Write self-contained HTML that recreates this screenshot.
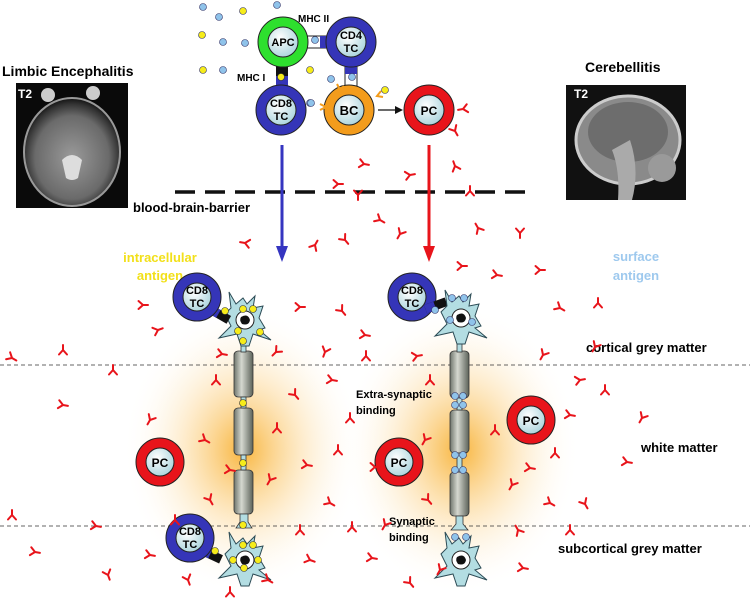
<!DOCTYPE html>
<html><head><meta charset="utf-8"><style>
html,body{margin:0;padding:0;background:#fff;width:750px;height:598px;overflow:hidden}
svg{display:block;font-family:"Liberation Sans",Arial,sans-serif}
</style></head><body>
<svg width="750" height="598" viewBox="0 0 750 598" xmlns="http://www.w3.org/2000/svg">
<defs>
<radialGradient id="glow" cx="50%" cy="50%" r="50%">
<stop offset="0" stop-color="#f7a81b" stop-opacity="0.85"/>
<stop offset="0.4" stop-color="#fbc970" stop-opacity="0.5"/>
<stop offset="1" stop-color="#fff" stop-opacity="0"/>
</radialGradient>
<radialGradient id="inner" cx="40%" cy="35%" r="70%">
<stop offset="0" stop-color="#ffffff"/><stop offset="1" stop-color="#a9d3dc"/>
</radialGradient>
<linearGradient id="axon" x1="0" x2="1">
<stop offset="0" stop-color="#6f756c"/><stop offset="0.4" stop-color="#d5d8d0"/><stop offset="1" stop-color="#5c6259"/>
</linearGradient>
<radialGradient id="brainL" cx="50%" cy="55%" r="55%">
<stop offset="0" stop-color="#9a9a9a"/><stop offset="0.7" stop-color="#6a6a6a"/><stop offset="0.9" stop-color="#333"/><stop offset="1" stop-color="#111"/>
</radialGradient>
<g id="ab"><path d="M0,5 L0,0 M0,0 L-4,-4.5 M0,0 L4,-4.5" stroke="#e8141b" stroke-width="2" fill="none" stroke-linecap="round"/></g>
<g id="soma">
<path d="M-14,-12 L-16,-28 L-9,-16 L-2,-22 L2,-16 L10,-24 L8,-12 L18,-14 L14,-2 L20,8 L14,10 L26,20 L8,14 L4,26 L-4,26 L-8,14 L-26,18 L-14,6 L-20,-6 Z" fill="#b3dde2" stroke="#2c4b55" stroke-width="1"/>
<circle r="9" fill="#fff" stroke="#222" stroke-width="1"/>
<path d="M-4,-3 Q3,-7 5,0 Q4,6 -3,4 Q-6,0 -4,-3Z" fill="#111"/>
</g>
</defs>

<ellipse cx="243" cy="450" rx="120" ry="145" fill="url(#glow)"/>
<ellipse cx="460" cy="450" rx="120" ry="145" fill="url(#glow)"/>

<text x="2" y="76" font-size="14" font-weight="bold">Limbic Encephalitis</text>
<rect x="16" y="83" width="112" height="125" fill="#0a0a0a"/>
<ellipse cx="72" cy="152" rx="48" ry="54" fill="url(#brainL)"/>
<ellipse cx="72" cy="152" rx="48" ry="54" fill="none" stroke="#999" stroke-width="2"/>
<path d="M62,160 Q72,150 82,160 L78,178 Q72,182 66,178Z" fill="#ddd"/>
<circle cx="48" cy="95" r="7" fill="#ccc"/><circle cx="93" cy="93" r="7" fill="#ccc"/>
<text x="18" y="98" font-size="12" font-weight="bold" fill="#fff">T2</text>

<text x="585" y="72" font-size="14" font-weight="bold">Cerebellitis</text>
<rect x="566" y="85" width="120" height="115" fill="#111"/>
<ellipse cx="628" cy="140" rx="52" ry="44" fill="#8a8a8a" stroke="#ccc" stroke-width="3"/>
<ellipse cx="628" cy="132" rx="40" ry="30" fill="#6d6d6d"/>
<path d="M630,140 Q640,170 632,200 L618,200 Q620,170 612,150Z" fill="#aaa"/>
<circle cx="662" cy="168" r="14" fill="#9a9a9a"/>
<text x="574" y="98" font-size="12" font-weight="bold" fill="#fff">T2</text>

<g stroke="#336" stroke-width="0.6">
<circle cx="203" cy="7" r="3.5" fill="#8fc3ea"/><circle cx="277" cy="5" r="3.5" fill="#8fc3ea"/>
<circle cx="219" cy="17" r="3.5" fill="#8fc3ea"/><circle cx="243" cy="11" r="3.5" fill="#f6ec1a"/>
<circle cx="202" cy="35" r="3.5" fill="#f6ec1a"/><circle cx="223" cy="42" r="3.5" fill="#8fc3ea"/>
<circle cx="245" cy="43" r="3.5" fill="#8fc3ea"/><circle cx="203" cy="70" r="3.5" fill="#f6ec1a"/>
<circle cx="223" cy="70" r="3.5" fill="#8fc3ea"/><circle cx="310" cy="70" r="3.5" fill="#f6ec1a"/>
<circle cx="331" cy="79" r="3.5" fill="#8fc3ea"/><circle cx="310" cy="103" r="3.5" fill="#8fc3ea"/>
<circle cx="385" cy="90" r="3.5" fill="#f6ec1a"/>
</g>

<rect x="307" y="36" width="26" height="12" fill="#fff" stroke="#222"/>
<rect x="320" y="36" width="13" height="12" fill="#3535b8"/>
<circle cx="315" cy="40" r="3.5" fill="#8fc3ea" stroke="#336" stroke-width="0.6"/>
<rect x="276" y="64" width="12" height="22" fill="#111"/>
<rect x="276" y="76" width="12" height="12" fill="#3535b8"/>
<circle cx="281" cy="77" r="3.5" fill="#f6ec1a" stroke="#333" stroke-width="0.6"/>
<rect x="345" y="62" width="12" height="26" fill="#fff" stroke="#222"/>
<rect x="345" y="62" width="12" height="12" fill="#3535b8"/>
<circle cx="352" cy="77" r="3.5" fill="#8fc3ea" stroke="#336" stroke-width="0.6"/>
<text x="298" y="22" font-size="10" font-weight="bold">MHC II</text>
<text x="237" y="81" font-size="10" font-weight="bold">MHC I</text>

<g stroke="#222" stroke-width="1">
<circle cx="283" cy="42" r="25" fill="#2ee02e"/><circle cx="283" cy="42" r="15" fill="url(#inner)"/>
<circle cx="351" cy="42" r="25" fill="#3535b8"/><circle cx="351" cy="42" r="15" fill="url(#inner)"/>
<circle cx="281" cy="110" r="25" fill="#3535b8"/><circle cx="281" cy="110" r="15" fill="url(#inner)"/>
<circle cx="349" cy="110" r="25" fill="#f39c1c"/><circle cx="349" cy="110" r="15" fill="url(#inner)"/>
<circle cx="429" cy="110" r="25" fill="#e8141b"/><circle cx="429" cy="110" r="15" fill="url(#inner)"/>
</g>
<g font-size="11" font-weight="bold" text-anchor="middle">
<text x="283" y="46">APC</text>
<text x="351" y="39">CD4</text><text x="351" y="52">TC</text>
<text x="281" y="107">CD8</text><text x="281" y="120">TC</text>
<text x="349" y="115" font-size="13">BC</text>
<text x="429" y="115" font-size="12">PC</text>
</g>
<g stroke="#f39c1c" stroke-width="2" fill="none">
<path d="M320,104 l6,3 l-6,3"/><path d="M337,84 l3,6 l4,-4"/><path d="M381,91 l-4,5 l6,1"/>
</g>
<line x1="378" y1="110" x2="396" y2="110" stroke="#111" stroke-width="1.2"/>
<polygon points="403,110 395,106 395,114" fill="#111"/>
<circle cx="311" cy="103" r="3.5" fill="#8fc3ea" stroke="#336" stroke-width="0.6"/>

<line x1="175" y1="192" x2="526" y2="192" stroke="#111" stroke-width="3.5" stroke-dasharray="20,10"/>
<text x="133" y="212" font-size="13" font-weight="bold">blood-brain-barrier</text>

<line x1="282" y1="145" x2="282" y2="250" stroke="#3535c0" stroke-width="3"/>
<polygon points="282,262 276,246 288,246" fill="#3535c0"/>
<line x1="429" y1="145" x2="429" y2="250" stroke="#e8141b" stroke-width="3"/>
<polygon points="429,262 423,246 435,246" fill="#e8141b"/>

<text x="160" y="262" font-size="13" font-weight="bold" fill="#f2e01a" text-anchor="middle">intracellular</text>
<text x="160" y="280" font-size="13" font-weight="bold" fill="#f2e01a" text-anchor="middle">antigen</text>
<text x="636" y="261" font-size="13" font-weight="bold" fill="#9ec9ee" text-anchor="middle">surface</text>
<text x="636" y="280" font-size="13" font-weight="bold" fill="#9ec9ee" text-anchor="middle">antigen</text>

<line x1="0" y1="365" x2="750" y2="365" stroke="#333" stroke-width="0.8" stroke-dasharray="4,3"/>
<line x1="0" y1="526" x2="750" y2="526" stroke="#333" stroke-width="0.8" stroke-dasharray="4,3"/>
<g font-size="13" font-weight="bold">
<text x="586" y="352">cortical grey matter</text>
<text x="641" y="452">white matter</text>
<text x="558" y="553">subcortical grey matter</text>
</g>

<g stroke="#333" stroke-width="0.8">
<rect x="234" y="351" width="19" height="46" rx="4" fill="url(#axon)"/>
<rect x="234" y="408" width="19" height="47" rx="4" fill="url(#axon)"/>
<rect x="234" y="470" width="19" height="44" rx="4" fill="url(#axon)"/>
<rect x="241" y="397" width="5" height="11" fill="#b3dde2"/>
<rect x="241" y="455" width="5" height="15" fill="#b3dde2"/>
<path d="M240,514 L240,522 L236,528 L252,528 L248,522 L248,514Z" fill="#b3dde2"/>
<rect x="241" y="342" width="5" height="10" fill="#b3dde2"/>
</g>
<use href="#soma" x="245" y="320"/>
<use href="#soma" x="245" y="560"/>
<g fill="#f6ec1a" stroke="#333" stroke-width="0.6">
<circle cx="243" cy="403" r="3.5"/><circle cx="243" cy="463" r="3.5"/><circle cx="243" cy="525" r="3.5"/>
<circle cx="243" cy="309" r="3.5"/><circle cx="253" cy="309" r="3.5"/><circle cx="238" cy="331" r="3.5"/>
<circle cx="260" cy="332" r="3.5"/><circle cx="243" cy="341" r="3.5"/>
<circle cx="243" cy="545" r="3.5"/><circle cx="253" cy="545" r="3.5"/><circle cx="233" cy="560" r="3.5"/>
<circle cx="244" cy="568" r="3.5"/><circle cx="258" cy="560" r="3.5"/>
</g>
<rect x="212" y="305" width="22" height="9" transform="rotate(30 212 305)" fill="#111"/>
<rect x="212" y="305" width="10" height="9" transform="rotate(30 212 305)" fill="#3535b8"/>
<circle cx="225" cy="311" r="3.5" fill="#f6ec1a" stroke="#333" stroke-width="0.6"/>
<rect x="203" y="546" width="22" height="9" transform="rotate(25 203 546)" fill="#111"/>
<rect x="203" y="546" width="10" height="9" transform="rotate(25 203 546)" fill="#3535b8"/>
<circle cx="215" cy="551" r="3.5" fill="#f6ec1a" stroke="#333" stroke-width="0.6"/>
<g stroke="#222" stroke-width="1">
<circle cx="197" cy="297" r="24" fill="#3535b8"/><circle cx="197" cy="297" r="14" fill="url(#inner)"/>
<circle cx="190" cy="538" r="24" fill="#3535b8"/><circle cx="190" cy="538" r="14" fill="url(#inner)"/>
<circle cx="412" cy="297" r="24" fill="#3535b8"/><circle cx="412" cy="297" r="14" fill="url(#inner)"/>
<circle cx="160" cy="462" r="24" fill="#e8141b"/><circle cx="160" cy="462" r="14" fill="url(#inner)"/>
<circle cx="399" cy="462" r="24" fill="#e8141b"/><circle cx="399" cy="462" r="14" fill="url(#inner)"/>
<circle cx="531" cy="420" r="24" fill="#e8141b"/><circle cx="531" cy="420" r="14" fill="url(#inner)"/>
</g>

<g stroke="#333" stroke-width="0.8">
<rect x="450" y="351" width="19" height="47" rx="4" fill="url(#axon)"/>
<rect x="450" y="410" width="19" height="43" rx="4" fill="url(#axon)"/>
<rect x="450" y="472" width="19" height="44" rx="4" fill="url(#axon)"/>
<rect x="457" y="398" width="5" height="12" fill="#b3dde2"/>
<rect x="457" y="453" width="5" height="19" fill="#b3dde2"/>
<path d="M456,516 L456,524 L451,530 L468,530 L463,524 L463,516Z" fill="#b3dde2"/>
<rect x="457" y="340" width="5" height="12" fill="#b3dde2"/>
</g>
<rect x="424" y="305" width="22" height="9" transform="rotate(-20 424 305)" fill="#111"/>
<rect x="424" y="305" width="10" height="9" transform="rotate(-20 424 305)" fill="#3535b8"/>
<circle cx="435" cy="310" r="3.5" fill="#8fc3ea" stroke="#336" stroke-width="0.6"/>
<use href="#soma" x="461" y="318"/>
<use href="#soma" x="461" y="560"/>
<g fill="#8fc3ea" stroke="#336" stroke-width="0.6">
<circle cx="455" cy="396" r="3.5"/><circle cx="463" cy="396" r="3.5"/><circle cx="455" cy="405" r="3.5"/><circle cx="463" cy="405" r="3.5"/>
<circle cx="455" cy="455" r="3.5"/><circle cx="463" cy="455" r="3.5"/><circle cx="455" cy="470" r="3.5"/><circle cx="463" cy="470" r="3.5"/>
<circle cx="452" cy="298" r="3.5"/><circle cx="464" cy="298" r="3.5"/><circle cx="450" cy="320" r="3.5"/><circle cx="472" cy="322" r="3.5"/>
<circle cx="455" cy="537" r="3.5"/><circle cx="466" cy="537" r="3.5"/>
</g>
<g font-size="11" font-weight="bold" text-anchor="middle">
<text x="197" y="294">CD8</text><text x="197" y="307">TC</text>
<text x="190" y="535">CD8</text><text x="190" y="548">TC</text>
<text x="412" y="294">CD8</text><text x="412" y="307">TC</text>
<text x="160" y="467" font-size="12">PC</text>
<text x="399" y="467" font-size="12">PC</text>
<text x="531" y="425" font-size="12">PC</text>
</g>
<g font-size="11" font-weight="bold">
<text x="356" y="398">Extra-synaptic</text><text x="356" y="414">binding</text>
<text x="389" y="525">Synaptic</text><text x="389" y="541">binding</text>
</g>

<g>
<use href="#ab" transform="translate(463,109) rotate(80)"/>
<use href="#ab" transform="translate(455,131) rotate(-30)"/>
<use href="#ab" transform="translate(364,164) rotate(-80)"/>
<use href="#ab" transform="translate(455,166) rotate(160)"/>
<use href="#ab" transform="translate(410,175) rotate(-100)"/>
<use href="#ab" transform="translate(338,184) rotate(-90)"/>
<use href="#ab" transform="translate(358,195) rotate(0)"/>
<use href="#ab" transform="translate(470,191) rotate(180)"/>
<use href="#ab" transform="translate(380,220) rotate(-60)"/>
<use href="#ab" transform="translate(478,228) rotate(150)"/>
<use href="#ab" transform="translate(400,234) rotate(30)"/>
<use href="#ab" transform="translate(345,240) rotate(-40)"/>
<use href="#ab" transform="translate(520,233) rotate(0)"/>
<use href="#ab" transform="translate(245,243) rotate(100)"/>
<use href="#ab" transform="translate(315,245) rotate(-150)"/>
<use href="#ab" transform="translate(462,266) rotate(-90)"/>
<use href="#ab" transform="translate(540,270) rotate(-90)"/>
<use href="#ab" transform="translate(497,275) rotate(-80)"/>
<use href="#ab" transform="translate(560,308) rotate(-60)"/>
<use href="#ab" transform="translate(598,303) rotate(180)"/>
<use href="#ab" transform="translate(595,347) rotate(30)"/>
<use href="#ab" transform="translate(543,355) rotate(30)"/>
<use href="#ab" transform="translate(143,305) rotate(-90)"/>
<use href="#ab" transform="translate(158,330) rotate(-110)"/>
<use href="#ab" transform="translate(300,307) rotate(-90)"/>
<use href="#ab" transform="translate(342,311) rotate(-40)"/>
<use href="#ab" transform="translate(365,335) rotate(-80)"/>
<use href="#ab" transform="translate(276,352) rotate(45)"/>
<use href="#ab" transform="translate(222,354) rotate(-80)"/>
<use href="#ab" transform="translate(325,352) rotate(20)"/>
<use href="#ab" transform="translate(366,356) rotate(180)"/>
<use href="#ab" transform="translate(417,356) rotate(-100)"/>
<use href="#ab" transform="translate(216,380) rotate(180)"/>
<use href="#ab" transform="translate(332,380) rotate(-80)"/>
<use href="#ab" transform="translate(295,395) rotate(-40)"/>
<use href="#ab" transform="translate(430,380) rotate(180)"/>
<use href="#ab" transform="translate(580,380) rotate(-100)"/>
<use href="#ab" transform="translate(605,390) rotate(180)"/>
<use href="#ab" transform="translate(12,358) rotate(-60)"/>
<use href="#ab" transform="translate(63,350) rotate(180)"/>
<use href="#ab" transform="translate(113,370) rotate(180)"/>
<use href="#ab" transform="translate(63,405) rotate(-80)"/>
<use href="#ab" transform="translate(350,418) rotate(180)"/>
<use href="#ab" transform="translate(277,428) rotate(180)"/>
<use href="#ab" transform="translate(205,440) rotate(-60)"/>
<use href="#ab" transform="translate(338,450) rotate(180)"/>
<use href="#ab" transform="translate(425,440) rotate(30)"/>
<use href="#ab" transform="translate(495,430) rotate(180)"/>
<use href="#ab" transform="translate(570,415) rotate(-80)"/>
<use href="#ab" transform="translate(642,418) rotate(30)"/>
<use href="#ab" transform="translate(627,462) rotate(-80)"/>
<use href="#ab" transform="translate(555,453) rotate(180)"/>
<use href="#ab" transform="translate(530,468) rotate(-80)"/>
<use href="#ab" transform="translate(512,485) rotate(30)"/>
<use href="#ab" transform="translate(230,470) rotate(-80)"/>
<use href="#ab" transform="translate(307,465) rotate(-80)"/>
<use href="#ab" transform="translate(270,480) rotate(30)"/>
<use href="#ab" transform="translate(375,467) rotate(-90)"/>
<use href="#ab" transform="translate(210,500) rotate(-30)"/>
<use href="#ab" transform="translate(330,503) rotate(-60)"/>
<use href="#ab" transform="translate(428,500) rotate(-40)"/>
<use href="#ab" transform="translate(550,503) rotate(-60)"/>
<use href="#ab" transform="translate(585,504) rotate(-30)"/>
<use href="#ab" transform="translate(12,515) rotate(180)"/>
<use href="#ab" transform="translate(96,526) rotate(-80)"/>
<use href="#ab" transform="translate(300,530) rotate(180)"/>
<use href="#ab" transform="translate(352,527) rotate(180)"/>
<use href="#ab" transform="translate(385,525) rotate(30)"/>
<use href="#ab" transform="translate(518,530) rotate(150)"/>
<use href="#ab" transform="translate(570,530) rotate(180)"/>
<use href="#ab" transform="translate(35,552) rotate(-80)"/>
<use href="#ab" transform="translate(150,555) rotate(-80)"/>
<use href="#ab" transform="translate(310,560) rotate(-70)"/>
<use href="#ab" transform="translate(372,558) rotate(-80)"/>
<use href="#ab" transform="translate(523,568) rotate(-80)"/>
<use href="#ab" transform="translate(440,570) rotate(30)"/>
<use href="#ab" transform="translate(108,575) rotate(-20)"/>
<use href="#ab" transform="translate(188,580) rotate(-20)"/>
<use href="#ab" transform="translate(410,583) rotate(-40)"/>
<use href="#ab" transform="translate(230,592) rotate(180)"/>
<use href="#ab" transform="translate(268,580) rotate(-60)"/>
<use href="#ab" transform="translate(175,520) rotate(180)"/>
<use href="#ab" transform="translate(150,420) rotate(30)"/>
</g>
</svg>
</body></html>
